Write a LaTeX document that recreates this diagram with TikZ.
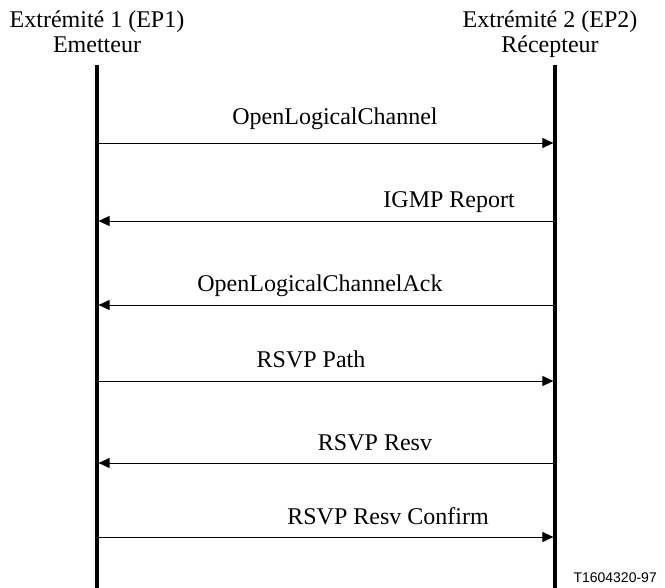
\documentclass[tikz,border=0pt]{standalone}
\usepackage{fontspec}
\setmainfont{Liberation Serif}
\newfontfamily\refsans{Liberation Sans}
\usetikzlibrary{arrows.meta, positioning}

\begin{document}
\begin{tikzpicture}[
  x=1pt, y=-1pt,
  lifeline/.style={line width=3.2pt},
  msg/.style={line width=0.9pt, shorten >=1.6pt,
              -{Triangle[length=11pt, width=10pt]}},
  hdr/.style={font=\fontsize{24}{25}\selectfont, align=center, inner sep=0pt},
  lbl/.style={font=\fontsize{24}{25}\selectfont, inner sep=0pt}
]
\useasboundingbox (0,0) rectangle (665,588);

% End points and their lifelines
\node[hdr, anchor=north] (ep1) at (97,11) {Extrémité 1 (EP1)\\Emetteur};
\node[hdr, anchor=north] (ep2) at (550,11) {Extrémité 2 (EP2)\\Récepteur};

\coordinate (ep1 top) at (97,65);
\coordinate (ep1 bot) at (97,588);
\coordinate (ep2 top) at (555,65);
\coordinate (ep2 bot) at (555,588);
\draw[lifeline] (ep1 top) -- (ep1 bot);
\draw[lifeline] (ep2 top) -- (ep2 bot);

% Messages
\coordinate (a1) at (97,143);  \coordinate (b1) at (555,143);
\coordinate (a2) at (97,221);  \coordinate (b2) at (555,221);
\coordinate (a3) at (97,305);  \coordinate (b3) at (555,305);
\coordinate (a4) at (97,381);  \coordinate (b4) at (555,381);
\coordinate (a5) at (97,463);  \coordinate (b5) at (555,463);
\coordinate (a6) at (97,537);  \coordinate (b6) at (555,537);

\draw[msg] (a1) -- (b1);
\draw[msg] (b2) -- (a2);
\draw[msg] (b3) -- (a3);
\draw[msg] (a4) -- (b4);
\draw[msg] (b5) -- (a5);
\draw[msg] (a6) -- (b6);

% Message labels
\node[lbl, anchor=base] (olc) at (335,125) {OpenLogicalChannel};
\node[lbl, anchor=base east] (igmp) at (515,208) {IGMP Report};
\node[lbl, anchor=base] (olcack) at (320,292) {OpenLogicalChannelAck};
\node[lbl, anchor=base] (path) at (311,368) {RSVP Path};
\node[lbl, anchor=base] (resv) at (375,450) {RSVP Resv};
\node[lbl, anchor=base] (confirm) at (388,524) {RSVP Resv Confirm};

% Figure number
\node[font=\refsans\fontsize{14}{16}\selectfont, inner sep=0pt,
      anchor=base east] (fig) at (657,582) {T1604320-97};
\end{tikzpicture}
\end{document}
